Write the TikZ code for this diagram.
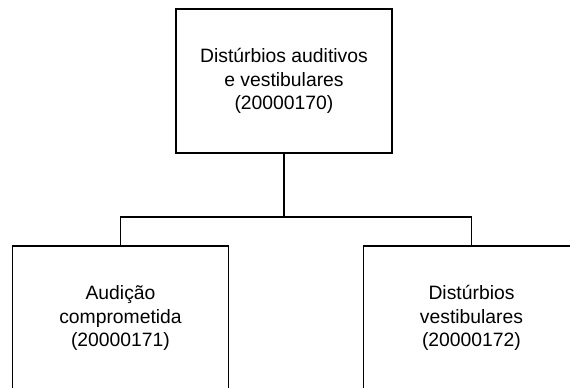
\documentclass[tikz,border=0pt]{standalone}
\usepackage{fontspec}
\setmainfont{Liberation Sans}

\begin{document}
\begin{tikzpicture}[x=0.75pt,y=-0.75pt,
    box/.style={draw,line width=1.1pt,minimum width=162pt,minimum height=108pt,
        align=center,font=\fontsize{14.5}{17.4}\selectfont,inner sep=0pt}]
    \useasboundingbox (0,0) rectangle (570,387);
    % Draw parent box
    \node[box] (auditivos) at (284,81) {Distúrbios auditivos\\e vestibulares\\(20000170)};
    % Draw child boxes
    \node[box] (audicao) at (120.5,318) {Audição\\comprometida\\(20000171)};
    \node[box] (vestibulares) at (471.5,318) {Distúrbios\\vestibulares\\(20000172)};
    % Draw connectors
    \coordinate (split) at (284,217);
    \draw[line width=1.1pt] (auditivos.south) -- (split);
    \draw[line width=1.1pt] (audicao.north) |- (split) -| (vestibulares.north);
\end{tikzpicture}
\end{document}
